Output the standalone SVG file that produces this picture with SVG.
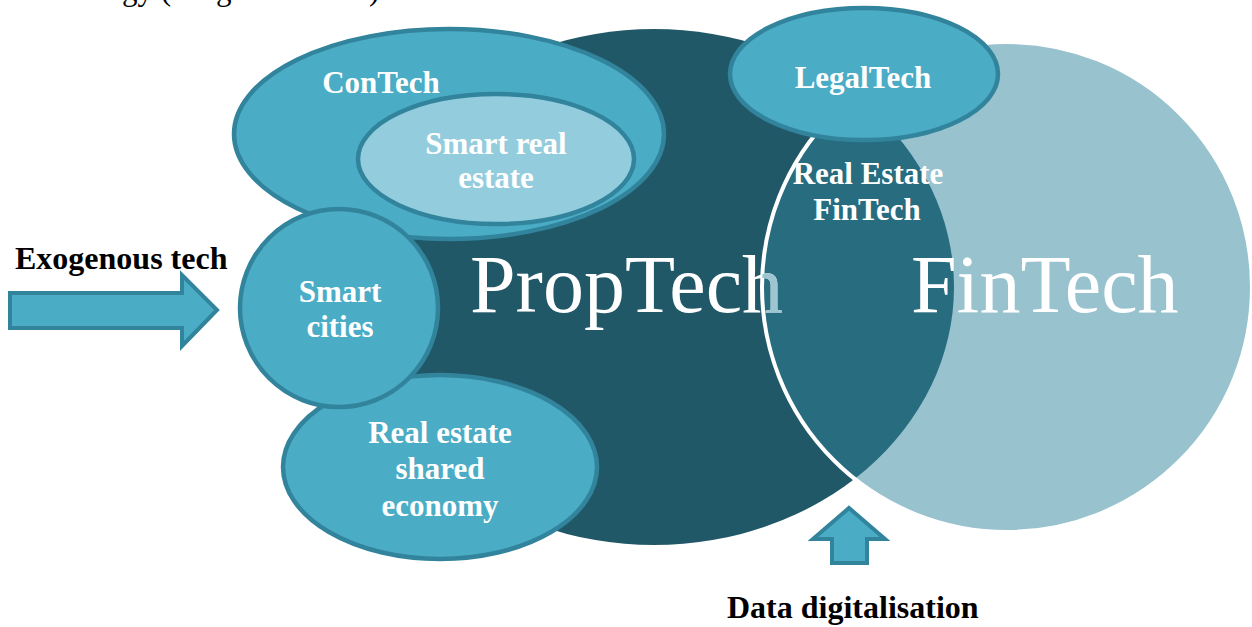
<svg xmlns="http://www.w3.org/2000/svg" width="1252" height="627" viewBox="0 0 1252 627">
  <style>
    .bubble { fill: #4bacc6; stroke: #31849b; stroke-width: 4.5; }
    .inner { fill: #93cddd; stroke: #31849b; stroke-width: 4.5; }
    .arrow { fill: #4bacc6; stroke: #31849b; stroke-width: 4; stroke-linejoin: miter; }
    .lbl { font-family: "Liberation Serif", "Times New Roman", serif; font-weight: bold; font-size: 31px; fill: #ffffff; text-anchor: middle; }
    .big { font-family: "Liberation Serif", "Times New Roman", serif; font-size: 82px; fill: #ffffff; }
    .note { font-family: "Liberation Serif", "Times New Roman", serif; font-weight: bold; font-size: 32px; fill: #000000; }
    .body { font-family: "Liberation Serif", "Times New Roman", serif; font-size: 31px; fill: #000000; }
  </style>
  <defs>
    <clipPath id="finClip">
      <circle cx="1007" cy="287" r="245"/>
    </clipPath>
    <clipPath id="lensClip">
      <ellipse cx="654" cy="287" rx="300" ry="258" clip-path="url(#finClip)"/>
    </clipPath>
  </defs>

  <rect width="1252" height="627" fill="#ffffff"/>

  <!-- running text line above the figure, cut at the top edge -->
  <text class="body" y="0"><tspan x="122">gy (</tspan><tspan x="216">g</tspan><tspan x="369">)</tspan></text>

  <!-- PropTech domain -->
  <g id="proptech">
    <ellipse cx="654" cy="287" rx="300" ry="258" fill="#215868"/>
  </g>

  <!-- FinTech domain and the overlap lens -->
  <g id="fintech">
    <circle cx="1007" cy="287" r="245" fill="#99c2cf"/>
    <g clip-path="url(#finClip)">
      <ellipse cx="654" cy="287" rx="300" ry="258" fill="#276c7f"/>
    </g>
    <circle cx="1007" cy="287" r="245" fill="none" stroke="#ffffff" stroke-width="4"/>
  </g>

  <!-- big domain names -->
  <g id="domain-labels">
    <text class="big" x="470" y="312">PropTech</text>
    <g clip-path="url(#lensClip)">
      <text class="big" x="470" y="312" style="fill:#9ec6d2">PropTech</text>
    </g>
    <text class="big" x="911" y="312">FinTech</text>
  </g>

  <g id="contech">
    <ellipse class="bubble" cx="449" cy="134" rx="215" ry="105"/>
    <text class="lbl" x="381" y="93">ConTech</text>
  </g>

  <g id="smart-real-estate">
    <ellipse class="inner" cx="496" cy="159" rx="138" ry="65"/>
    <text class="lbl" x="496" y="154">Smart real</text>
    <text class="lbl" x="496" y="188">estate</text>
  </g>

  <g id="shared-economy">
    <ellipse class="bubble" cx="440" cy="467" rx="157" ry="92"/>
    <text class="lbl" x="440" y="443">Real estate</text>
    <text class="lbl" x="440" y="479">shared</text>
    <text class="lbl" x="440" y="516">economy</text>
  </g>

  <g id="smart-cities">
    <circle class="bubble" cx="339" cy="308" r="99"/>
    <text class="lbl" x="340" y="302">Smart</text>
    <text class="lbl" x="340" y="337">cities</text>
  </g>

  <g id="legaltech">
    <ellipse class="bubble" cx="864" cy="74" rx="134" ry="66"/>
    <text class="lbl" x="863" y="88">LegalTech</text>
  </g>

  <g id="re-fintech">
    <text class="lbl" x="868" y="184">Real Estate</text>
    <text class="lbl" x="867" y="220">FinTech</text>
  </g>

  <!-- driver arrows -->
  <g id="connectors">
    <polygon class="arrow" points="10,293 182,293 182,275 217,310 182,346 182,328 10,328"/>
    <polygon class="arrow" points="849,508 885,539 867,539 867,563 832,563 832,539 813,539"/>
  </g>

  <g id="drivers">
    <text class="note" x="15" y="269">Exogenous tech</text>
    <text class="note" x="727" y="618">Data digitalisation</text>
  </g>
</svg>
